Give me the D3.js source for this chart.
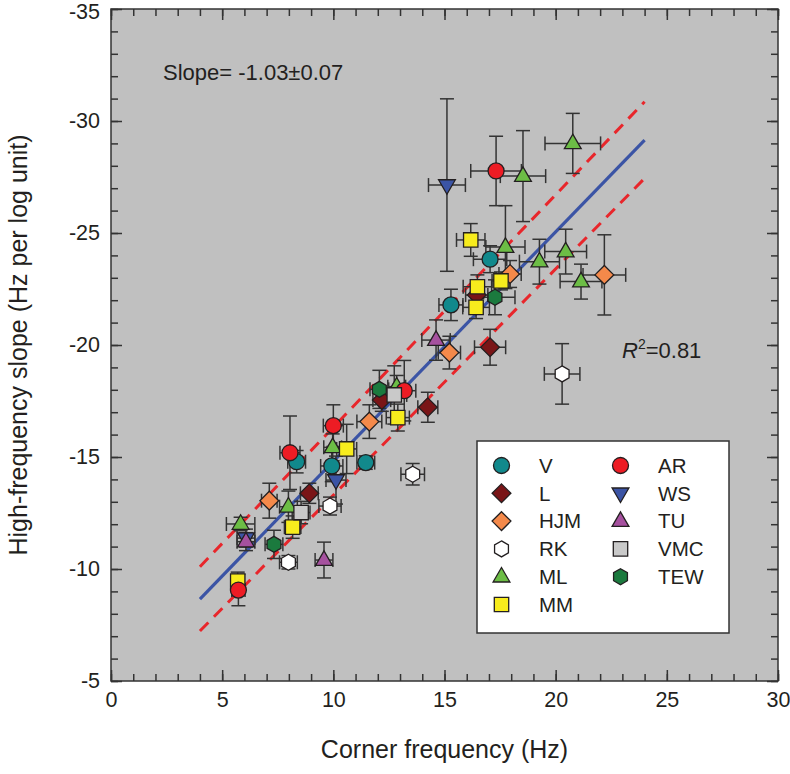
<!DOCTYPE html>
<html><head><meta charset="utf-8">
<script src="https://cdn.jsdelivr.net/npm/d3@7"></script>
<style>
body{margin:0;background:#fff}
svg{display:block}
text{font-family:"Liberation Sans",Arial,Helvetica,sans-serif;fill:#231f20}
</style>
</head><body>
<svg id="chart" width="790" height="774"></svg>
<script>
// ---------- data ----------
const xTicks = [0, 5, 10, 15, 20, 25, 30];
const yTicks = [-35, -30, -25, -20, -15, -10, -5];
const xLabel = "Corner frequency (Hz)";
const yLabel = "High-frequency slope (Hz per log unit)";
const slopeText = "Slope= -1.03\u00b10.07";
const r2Value = "=0.81";

// each point: [corner frequency, slope, x error, y error]
const V   = [[17.05,-23.83,0.75,0.6],[15.29,-21.79,0.54,0.7],[8.35,-14.79,0.4,0.5],[9.93,-14.6,0.5,0.7],[11.46,-14.75,0.4,0.3]];
const L   = [[16.45,-22.23,0.5,0.5],[17.05,-19.9,0.7,0.8],[14.25,-17.22,0.45,0.67],[12.18,-17.54,0.4,0.5],[8.92,-13.38,0.4,0.45]];
const HJM = [[22.19,-23.13,0.96,1.79],[17.95,-23.17,0.5,0.6],[15.22,-19.66,0.5,0.73],[11.62,-16.58,0.56,0.75],[7.12,-13.05,0.35,0.78]];
const RK  = [[20.29,-18.71,0.8,1.35],[13.57,-14.23,0.53,0.48],[9.85,-12.81,0.5,0.4],[7.98,-10.3,0.4,0.3]];
const ML  = [[18.53,-27.54,1.02,2.03],[20.77,-29.0,1.25,1.34],[17.74,-24.37,0.88,1.85],[19.27,-23.72,0.9,1.0],[20.45,-24.17,0.94,1.0],[21.14,-22.83,0.94,0.78],[12.85,-18.14,0.4,0.5],[9.97,-15.43,0.4,0.6],[7.98,-12.78,0.4,0.7],[5.83,-12.01,0.64,0.3]];
const MM  = [[16.18,-24.69,0.64,0.73],[16.48,-22.6,0.64,0.53],[17.54,-22.86,0.4,0.4],[16.42,-21.68,0.6,0.5],[12.9,-16.76,0.52,0.6],[10.6,-15.36,0.45,1.1],[8.17,-11.87,0.37,0.5],[5.7,-9.46,0.3,0.4]];
const AR  = [[17.32,-27.77,1.14,1.55],[13.19,-17.96,0.52,1.35],[10.0,-16.4,0.45,0.93],[8.05,-15.19,0.45,1.64],[5.73,-9.06,0.3,0.7]];
const WS  = [[15.11,-27.14,0.83,3.85],[10.12,-13.97,0.45,1.07],[6.07,-11.38,0.4,0.4]];
const TU  = [[14.62,-20.22,0.64,0.9],[6.07,-11.22,0.4,0.4],[9.58,-10.4,0.4,0.8]];
const VMC = [[12.74,-17.77,0.56,1.3],[8.55,-12.52,0.4,0.5]];
const TEW = [[17.27,-22.13,0.9,0.78],[12.07,-18.02,0.42,0.85],[7.33,-11.1,0.4,0.63]];

// regression line and its bounds (two end points each)
const fitX   = [4, 24];
const fitY   = [-8.66, -29.15];
const upperY = [-10.1, -30.86];
const lowerY = [-7.23, -27.44];

// ---------- styling ----------
const seriesList = [
  {name:"V",   data:V,   shape:"circle",   color:"#11898c"},
  {name:"L",   data:L,   shape:"diamond",  color:"#7a1517"},
  {name:"HJM", data:HJM, shape:"diamond",  color:"#f4894a"},
  {name:"RK",  data:RK,  shape:"hexagon",  color:"#ffffff"},
  {name:"ML",  data:ML,  shape:"triUp",    color:"#6cbd45"},
  {name:"MM",  data:MM,  shape:"square",   color:"#f7ec1d"},
  {name:"AR",  data:AR,  shape:"circle",   color:"#ed1c24"},
  {name:"WS",  data:WS,  shape:"triDown",  color:"#3b54a5"},
  {name:"TU",  data:TU,  shape:"triUp",    color:"#a6519f"},
  {name:"VMC", data:VMC, shape:"square",   color:"#c9c9c9"},
  {name:"TEW", data:TEW, shape:"hexagon",  color:"#1b7a3e"}
];

const plot = {left:111, right:778, top:9, bottom:681};
const x = d3.scaleLinear().domain([0,30]).range([plot.left, plot.right]);
const y = d3.scaleLinear().domain([-35,-5]).range([plot.top, plot.bottom]);

const svg = d3.select("#chart");
const ink = "#333";

function shapePath(shape) {
  const p = d3.path();
  if (shape === "circle") { p.arc(0,0,8,0,2*Math.PI); p.closePath(); }
  else if (shape === "square") { p.rect(-7.2,-7.2,14.4,14.4); }
  else if (shape === "diamond") { p.moveTo(0,-9.4); p.lineTo(9.4,0); p.lineTo(0,9.4); p.lineTo(-9.4,0); p.closePath(); }
  else if (shape === "triUp") { p.moveTo(0,-9.2); p.lineTo(8.4,5.3); p.lineTo(-8.4,5.3); p.closePath(); }
  else if (shape === "triDown") { p.moveTo(0,9.2); p.lineTo(8.4,-5.3); p.lineTo(-8.4,-5.3); p.closePath(); }
  else if (shape === "hexagon") {
    for (let i=0;i<6;i++){ const a = -Math.PI/2 + i*Math.PI/3; const r=8;
      if(i===0) p.moveTo(r*Math.cos(a), r*Math.sin(a)); else p.lineTo(r*Math.cos(a), r*Math.sin(a)); }
    p.closePath();
  }
  return p.toString();
}

// background
svg.append("rect").attr("x",plot.left).attr("y",plot.top)
  .attr("width",plot.right-plot.left).attr("height",plot.bottom-plot.top)
  .attr("fill","#c0c0c0");

// axes (ticks inward on all four sides)
function styleAxis(g){ g.select(".domain").remove(); g.selectAll("line").attr("stroke",ink).attr("stroke-width",1.5);
  g.selectAll("text").attr("font-size",21.5).attr("fill","#231f20").attr("font-family",'"Liberation Sans",Arial,sans-serif'); }
const xMinor = d3.range(0,31,1), yMinor = d3.range(-35,-4,1);

svg.append("g").attr("transform",`translate(0,${plot.bottom})`)
  .call(d3.axisBottom(x).tickValues(xMinor).tickSize(-7).tickFormat("")).call(styleAxis);
svg.append("g").attr("transform",`translate(0,${plot.bottom})`)
  .call(d3.axisBottom(x).tickValues(xTicks).tickSize(-11).tickPadding(11).tickFormat(d3.format("d"))).call(styleAxis);
svg.append("g").attr("transform",`translate(0,${plot.top})`)
  .call(d3.axisTop(x).tickValues(xMinor).tickSize(-7).tickFormat("")).call(styleAxis);
svg.append("g").attr("transform",`translate(0,${plot.top})`)
  .call(d3.axisTop(x).tickValues(xTicks).tickSize(-11).tickFormat("")).call(styleAxis);

svg.append("g").attr("transform",`translate(${plot.left},0)`)
  .call(d3.axisLeft(y).tickValues(yMinor).tickSize(-7).tickFormat("")).call(styleAxis);
const yAxisG = svg.append("g").attr("transform",`translate(${plot.left},0)`)
  .call(d3.axisLeft(y).tickValues(yTicks).tickSize(-11).tickPadding(11).tickFormat(d => d3.format("d")(d).replace("\u2212","-"))).call(styleAxis);
// keep the top label inside the picture
yAxisG.selectAll(".tick text").filter(d => d === -35).attr("dy","0.32em").attr("y",2.5);
svg.append("g").attr("transform",`translate(${plot.right},0)`)
  .call(d3.axisRight(y).tickValues(yMinor).tickSize(-7).tickFormat("")).call(styleAxis);
svg.append("g").attr("transform",`translate(${plot.right},0)`)
  .call(d3.axisRight(y).tickValues(yTicks).tickSize(-11).tickFormat("")).call(styleAxis);

// regression lines
const line = d3.line().x(d=>x(d[0])).y(d=>y(d[1]));
const fitPts = fitX.map((v,i)=>[v,fitY[i]]);
const upPts = fitX.map((v,i)=>[v,upperY[i]]);
const loPts = fitX.map((v,i)=>[v,lowerY[i]]);
svg.append("path").attr("d",line(upPts)).attr("fill","none").attr("stroke","#e8262b").attr("stroke-width",3).attr("stroke-dasharray","12,8");
svg.append("path").attr("d",line(loPts)).attr("fill","none").attr("stroke","#e8262b").attr("stroke-width",3).attr("stroke-dasharray","12,8");
svg.append("path").attr("d",line(fitPts)).attr("fill","none").attr("stroke","#3b54a5").attr("stroke-width",3.2);

// error bars
const cap = 7;
const eb = svg.append("g").attr("stroke",ink).attr("stroke-width",1.5).attr("fill","none");
seriesList.forEach(s => {
  s.data.forEach(d => {
    const cx = x(d[0]), cy = y(d[1]);
    const x0 = x(d[0]-d[2]), x1 = x(d[0]+d[2]);
    const y0 = y(d[1]-d[3]), y1 = y(d[1]+d[3]);
    eb.append("line").attr("x1",x0).attr("x2",x1).attr("y1",cy).attr("y2",cy);
    eb.append("line").attr("x1",x0).attr("x2",x0).attr("y1",cy-cap).attr("y2",cy+cap);
    eb.append("line").attr("x1",x1).attr("x2",x1).attr("y1",cy-cap).attr("y2",cy+cap);
    eb.append("line").attr("x1",cx).attr("x2",cx).attr("y1",y0).attr("y2",y1);
    eb.append("line").attr("x1",cx-cap).attr("x2",cx+cap).attr("y1",y0).attr("y2",y0);
    eb.append("line").attr("x1",cx-cap).attr("x2",cx+cap).attr("y1",y1).attr("y2",y1);
  });
});

// markers
seriesList.forEach(s => {
  svg.append("g").selectAll("path").data(s.data).join("path")
    .attr("d", shapePath(s.shape))
    .attr("transform", d => `translate(${x(d[0])},${y(d[1])})`)
    .attr("fill", s.color).attr("stroke","#231f20").attr("stroke-width",1.3);
});

// frame
svg.append("rect").attr("x",plot.left).attr("y",plot.top)
  .attr("width",plot.right-plot.left).attr("height",plot.bottom-plot.top)
  .attr("fill","none").attr("stroke",ink).attr("stroke-width",1.5);

// annotations
svg.append("text").attr("x",163).attr("y",80).attr("font-size",22).text(slopeText);
const r2 = svg.append("text").attr("x",622).attr("y",358).attr("font-size",22);
r2.append("tspan").attr("font-style","italic").text("R");
r2.append("tspan").attr("font-size",14).attr("dy",-9).text("2");
r2.append("tspan").attr("dy",9).text(r2Value);

// legend
const lg = svg.append("g");
lg.append("rect").attr("x",477).attr("y",441).attr("width",252).attr("height",192)
  .attr("fill","#fff").attr("stroke",ink).attr("stroke-width",1.5);
seriesList.forEach((s,i) => {
  const col = i < 6 ? 0 : 1;
  const row = i < 6 ? i : i-6;
  const mx = col === 0 ? 501.5 : 620.5;
  const tx = col === 0 ? 539 : 658;
  const my = 465.5 + row*27.8;
  lg.append("path").attr("d",shapePath(s.shape)).attr("transform",`translate(${mx},${my})`)
    .attr("fill",s.color).attr("stroke","#231f20").attr("stroke-width",1.3);
  lg.append("text").attr("x",tx).attr("y",my+7.3).attr("font-size",20.5).text(s.name);
});

// axis titles
svg.append("text").attr("x",(plot.left+plot.right)/2).attr("y",758).attr("text-anchor","middle")
  .attr("font-size",25).text(xLabel);
svg.append("text").attr("transform",`translate(27,${(plot.top+plot.bottom)/2}) rotate(-90)`)
  .attr("text-anchor","middle").attr("font-size",25).text(yLabel);
</script>
</body></html>
